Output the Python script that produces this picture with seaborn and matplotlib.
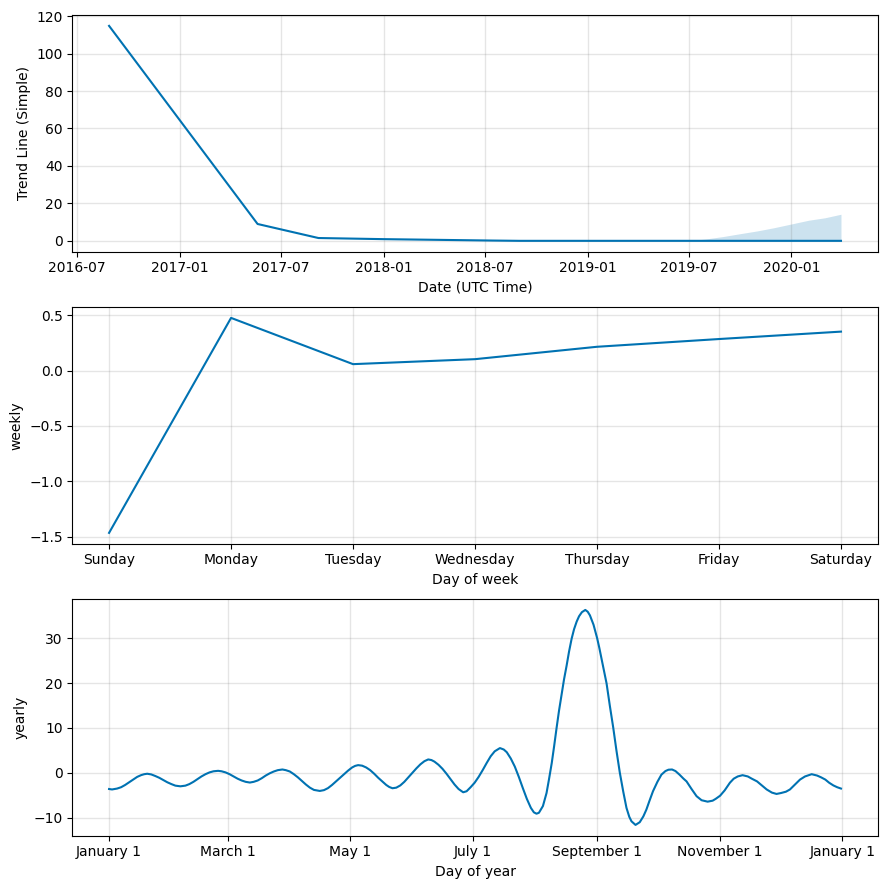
"""Prophet-style component plots: trend, weekly and yearly seasonality"""
import matplotlib
matplotlib.use("Agg")
import matplotlib.pyplot as plt
import matplotlib.dates as mdates
from matplotlib.ticker import FuncFormatter
import seaborn as sns
import pandas as pd

LINE_COLOR = "#0072B2"

# trend component
trend_dates = ["2016-08-27", "2017-05-20", "2017-09-06", "2018-01-01",
               "2018-07-15", "2018-09-01", "2019-07-01", "2020-03-30"]
trend_values = [114.8, 9.0, 1.5, 0.9, 0.15, 0.0, 0.0, 0.0]

# uncertainty band of the trend (only visible in the forecast part)
band_dates = ["2019-07-01", "2019-08-01", "2019-09-01", "2019-10-01", "2019-11-01",
              "2019-12-01", "2020-01-01", "2020-02-01", "2020-03-01", "2020-03-30"]
band_lower = [0.0, 0.0, 0.0, 0.0, 0.0, 0.0, 0.0, 0.0, 0.0, 0.0]
band_upper = [0.0, 1.0, 2.3, 3.8, 5.3, 7.0, 9.0, 11.0, 12.3, 14.2]

# weekly seasonality
week_days = ["Sunday", "Monday", "Tuesday", "Wednesday", "Thursday", "Friday", "Saturday"]
weekly_values = [-1.467, 0.476, 0.058, 0.103, 0.215, 0.285, 0.352]

# yearly seasonality: (day offset from 2017-01-01, value)
yearly_points = [
    (0, -3.6), (1.5, -3.7), (4, -3.5), (6, -3.2), (8, -2.7), (10, -2.1), (12, -1.5),
    (14, -0.9), (16, -0.5), (17.5, -0.3), (19, -0.2), (21, -0.35), (23, -0.7),
    (25, -1.1), (27, -1.6), (29, -2.1), (31, -2.5), (33, -2.85), (35.5, -3.0),
    (38, -2.85), (40, -2.5), (42, -2.0), (44, -1.4), (46, -0.8), (48, -0.3), (50, 0.1),
    (52, 0.35), (54.3, 0.45), (56, 0.35), (58, 0.1), (60, -0.3), (62, -0.8), (64, -1.3),
    (66, -1.7), (68, -2.0), (70.1, -2.16), (72, -2.0), (74, -1.7), (76, -1.2),
    (78, -0.6), (80, -0.1), (82, 0.3), (84, 0.6), (86.3, 0.75), (88, 0.6), (90, 0.3),
    (92, -0.3), (94, -1.0), (96, -1.8), (98, -2.6), (100, -3.3), (102, -3.8),
    (104.9, -4.03), (107, -3.85), (109, -3.4), (111, -2.7), (113, -1.9), (115, -1.1),
    (117, -0.3), (119, 0.5), (121, 1.2), (122.5, 1.55), (124, 1.72), (126, 1.6),
    (128, 1.2), (130, 0.6), (132, -0.2), (134, -1.1), (136, -1.9), (138, -2.7),
    (139.5, -3.15), (141.1, -3.43), (143, -3.3), (145, -2.8), (147, -2.0), (149, -1.0),
    (151, 0.0), (153, 1.0), (155, 1.9), (157, 2.6), (158.9, 2.99), (160.5, 2.85),
    (162, 2.5), (164, 1.8), (166, 0.9), (168, -0.2), (170, -1.4), (172, -2.6),
    (174, -3.6), (176.3, -4.33), (178, -4.1), (180, -3.2), (182, -2.2), (184, -0.9),
    (186, 0.6), (188, 2.2), (190, 3.7), (192, 4.8), (194.6, 5.52), (196.5, 5.2),
    (198, 4.6), (200, 3.2), (202, 1.4), (204, -0.9), (206, -3.4), (208, -5.8),
    (210, -7.8), (211.5, -8.8), (212.8, -9.1), (214, -8.9), (216, -7.4), (217.8, -4.5),
    (219, -1.5), (220.4, 2.2), (221.6, 6.0), (222.8, 10.0), (224, 13.8), (225.3, 17.5),
    (226.5, 20.8), (227.8, 23.9), (229, 27.0), (230.3, 29.9), (231.5, 32.0),
    (232.8, 33.7), (234, 34.9), (235.4, 35.8), (237.1, 36.3), (238.3, 35.9),
    (239.4, 35.1), (241.2, 33.0), (243, 30.0), (244.1, 27.8), (245.2, 25.4),
    (246.5, 22.6), (247.7, 19.9), (249.3, 15.0), (251, 10.1), (252.6, 5.0), (254.3, 0.0),
    (256, -4.2), (257.6, -7.8), (259, -9.8), (260.1, -10.8), (262.1, -11.6),
    (264.2, -11.0), (266, -9.7), (267.5, -8.2), (269, -6.3), (270.8, -4.1), (273, -2.0),
    (275, -0.4), (277, 0.4), (278.5, 0.7), (280.3, 0.75), (282, 0.4), (284, -0.4),
    (286, -1.3), (287.5, -1.9), (290, -3.6), (292.5, -5.2), (295, -6.1), (298, -6.42),
    (300.5, -6.2), (302, -5.8), (304.2, -5.1), (306.5, -3.9), (309.1, -2.2),
    (311, -1.3), (313, -0.8), (315.4, -0.52), (318, -0.8), (320, -1.3), (322.6, -1.9),
    (325, -2.8), (327.4, -3.7), (330, -4.4), (332.3, -4.7), (334.5, -4.5), (337, -4.2),
    (339, -3.7), (341.5, -2.6), (344, -1.5), (346.5, -0.8), (349.8, -0.3),
    (352.5, -0.6), (354.5, -1.0), (356.6, -1.5), (358.5, -2.2), (360.6, -2.8),
    (362.5, -3.2), (364.4, -3.5),
]
year_days = [p[0] for p in yearly_points]
yearly_values = [p[1] for p in yearly_points]


def style_grid(ax):
    ax.grid(True, which="major", c="gray", ls="-", lw=1, alpha=0.2)


fig, axes = plt.subplots(3, 1, figsize=(8.86, 8.89), dpi=100)
fig.subplots_adjust(left=0.0818, right=0.9905, top=0.983, bottom=0.060, hspace=0.235)

# trend
ax = axes[0]
df_trend = pd.DataFrame({"ds": pd.to_datetime(trend_dates), "trend": trend_values})
sns.lineplot(x="ds", y="trend", data=df_trend, ax=ax, color=LINE_COLOR, lw=1.5,
             estimator=None)
ax.fill_between(pd.to_datetime(band_dates), band_lower, band_upper,
                color=LINE_COLOR, alpha=0.2, lw=0)
ax.xaxis.set_major_locator(mdates.MonthLocator(bymonth=[1, 7]))
ax.xaxis.set_major_formatter(mdates.DateFormatter("%Y-%m"))
ax.set_xlabel("Date (UTC Time)")
ax.set_ylabel("Trend Line (Simple)")
style_grid(ax)

# weekly
ax = axes[1]
df_week = pd.DataFrame({"day": range(len(week_days)), "weekly": weekly_values})
sns.lineplot(x="day", y="weekly", data=df_week, ax=ax, color=LINE_COLOR, lw=1.5,
             estimator=None)
ax.set_xticks(range(len(week_days)))
ax.set_xticklabels(week_days)
ax.set_xlabel("Day of week")
ax.set_ylabel("weekly")
style_grid(ax)

# yearly
ax = axes[2]
start = pd.Timestamp("2017-01-01")
df_year = pd.DataFrame({"ds": start + pd.to_timedelta(year_days, unit="D"),
                        "yearly": yearly_values})
sns.lineplot(x="ds", y="yearly", data=df_year, ax=ax, color=LINE_COLOR, lw=1.5,
             estimator=None)
ax.xaxis.set_major_locator(mdates.MonthLocator(bymonthday=1, interval=2))
ax.xaxis.set_major_formatter(
    FuncFormatter(lambda x, pos=None: "{dt:%B} {dt.day}".format(dt=mdates.num2date(x))))
ax.set_xlabel("Day of year")
ax.set_ylabel("yearly")
style_grid(ax)

fig.savefig("out.png", dpi=100)
